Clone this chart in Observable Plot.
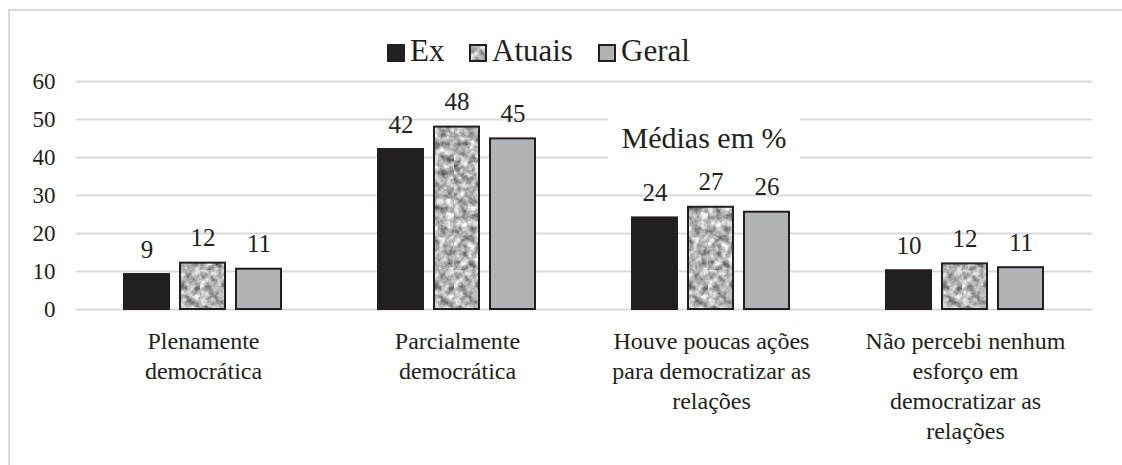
<!DOCTYPE html>
<html>
<head>
<meta charset="utf-8">
<script src="https://cdn.jsdelivr.net/npm/d3@7"></script>
<script src="https://cdn.jsdelivr.net/npm/@observablehq/plot@0.6"></script>
<style>
  html, body { margin: 0; padding: 0; background: #fff; overflow: hidden; }
  body { width: 1122px; height: 465px; position: relative; font-family: "Liberation Serif", "Times New Roman", serif; color: #231f20; }
  #frame { position: absolute; left: 8px; top: 9px; width: 1300px; height: 600px; border-left: 2px solid #d9d9d9; border-top: 2px solid #d9d9d9; pointer-events: none; }
  #legend { position: relative; height: 70px; }
  .item { position: absolute; top: 34px; display: flex; align-items: center; font-size: 31px; line-height: 34px; font-family: "Liberation Serif", serif; }
  .item svg { margin-right: 5px; margin-top: 4px; }
  #title { position: absolute; left: 608px; top: 116px; width: 192px; height: 44px; background: #fff; font-size: 30px; line-height: 44px; text-align: center; font-family: "Liberation Serif", serif; }
  #chart { position: relative; }
  #chart svg, #chart text { font-family: "Liberation Serif", "Times New Roman", serif; }
</style>
</head>
<body>
<div id="frame"></div>
<div id="legend"></div>
<div id="chart"></div>
<div id="title"></div>
<script>
// ---- data ----
const categories = [
  "Plenamente\ndemocrática",
  "Parcialmente\ndemocrática",
  "Houve poucas ações\npara democratizar as\nrelações",
  "Não percebi nenhum\nesforço em\ndemocratizar as\nrelações"
];
const series = ["Ex", "Atuais", "Geral"];
const exValues = [9.2, 42.1, 24.1, 10.2];
const atuaisValues = [12.2, 48.0, 26.9, 12.0];
const geralValues = [10.6, 44.9, 25.6, 11.0];
const yTicks = [0, 10, 20, 30, 40, 50, 60];
const chartTitle = "Médias em %";

// ---- styles ----
const fills = ["#231f20", "url(#speck)", "#b1b2b5"];
const strokes = ["#231f20", "#231f20", "#231f20"];
const serif = "Liberation Serif";

const valuesBySeries = [exValues, atuaisValues, geralValues];
const rows = [];
series.forEach((s, k) => categories.forEach((c, i) => rows.push({cat: c, series: s, value: valuesBySeries[k][i]})));
const fmt = d3.format(".0f");

const plot = Plot.plot({
  width: 1122,
  height: 395,
  marginLeft: 76,
  marginRight: 30,
  marginTop: 11,
  marginBottom: 156,
  style: {fontFamily: serif, fontSize: "23px", color: "#231f20", background: "transparent"},
  fx: {domain: categories, padding: 0, axis: null},
  x: {domain: series, paddingInner: 0.19, paddingOuter: 0.84, axis: null},
  y: {domain: [0, 60], axis: null},
  marks: [
    Plot.ruleY(yTicks, {stroke: "#d9d9d9", strokeWidth: 2}),
    Plot.axisY({ticks: yTicks, tickSize: 0, tickPadding: 21, label: null, fontSize: 23, fontFamily: serif}),
    Plot.axisFx({anchor: "bottom", tickSize: 0, tickPadding: 18, label: null, lineHeight: 1.25, fontSize: 24, fontFamily: serif}),
    ...series.map((s, k) => Plot.barY(rows.filter(r => r.series === s), {
      fx: "cat", x: "series", y: "value", fill: fills[k], stroke: strokes[k], strokeWidth: 2
    })),
    Plot.text(rows, {fx: "cat", x: "series", y: "value", text: d => fmt(d.value), dy: -25, fontSize: 25, fontFamily: serif, lineAnchor: "middle", fill: "#231f20"})
  ]
});

// pattern for "Atuais"
const defs = d3.select(plot).insert("defs", ":first-child");
const filt = defs.append("filter").attr("id", "noiseF").attr("x", 0).attr("y", 0).attr("width", "100%").attr("height", "100%")
  .attr("color-interpolation-filters", "sRGB");
filt.append("feTurbulence").attr("type", "fractalNoise").attr("baseFrequency", 0.14).attr("numOctaves", 3).attr("seed", 7).attr("result", "t");
filt.append("feColorMatrix").attr("in", "t").attr("type", "matrix")
  .attr("values", "1 0 0 0 0  1 0 0 0 0  1 0 0 0 0  0 0 0 0 1").attr("result", "g");
const ct = filt.append("feComponentTransfer").attr("in", "g");
["feFuncR", "feFuncG", "feFuncB"].forEach(f => ct.append(f).attr("type", "linear").attr("slope", 1.0).attr("intercept", 0.2));
const pat = defs.append("pattern").attr("id", "speck").attr("patternUnits", "userSpaceOnUse").attr("width", 200).attr("height", 200);
pat.append("rect").attr("width", 200).attr("height", 200).attr("fill", "#aaa").attr("filter", "url(#noiseF)");

document.getElementById("chart").appendChild(plot);

// legend
const legendLefts = [387, 469, 598];
const legend = document.getElementById("legend");
series.forEach((s, k) => {
  const item = document.createElement("div");
  item.className = "item";
  item.style.left = legendLefts[k] + "px";
  item.innerHTML = `<svg width="18" height="18"><rect x="1" y="1" width="16" height="16" fill="${fills[k]}" stroke="${strokes[k]}" stroke-width="2"/></svg><span>${s}</span>`;
  legend.appendChild(item);
});

document.getElementById("title").textContent = chartTitle;
</script>
</body>
</html>
